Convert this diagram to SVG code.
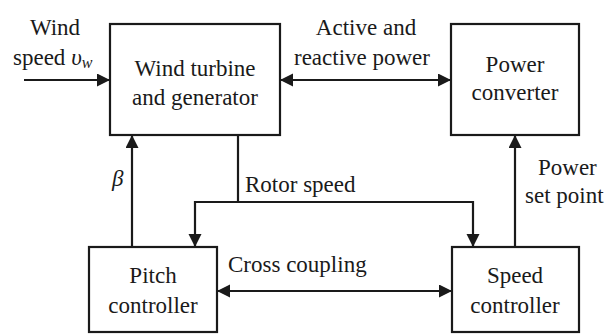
<svg xmlns="http://www.w3.org/2000/svg" width="605" height="334" viewBox="0 0 605 334">
<defs>
<marker id="ah" markerUnits="userSpaceOnUse" markerWidth="14" markerHeight="14" refX="13" refY="6.5" orient="auto-start-reverse">
<path d="M0,0 L13,6.5 L0,13 z" fill="#1a1a1a"/>
</marker>
</defs>
<rect width="605" height="334" fill="#fff"/>
<g id="connectors" fill="none" stroke="#1a1a1a" stroke-width="2.2">
<line x1="24" y1="80" x2="110" y2="80" marker-end="url(#ah)"/>
<line x1="280" y1="80" x2="451" y2="80" marker-start="url(#ah)" marker-end="url(#ah)"/>
<line x1="132" y1="247" x2="132" y2="135" marker-end="url(#ah)"/>
<polyline points="238,135 238,202"/>
<polyline points="195,247 195,202 473,202 473,247" marker-start="url(#ah)" marker-end="url(#ah)"/>
<line x1="217" y1="291" x2="452" y2="291" marker-start="url(#ah)" marker-end="url(#ah)"/>
<line x1="515" y1="247" x2="515" y2="135" marker-end="url(#ah)"/>
</g>
<g id="labels" fill="#1a1a1a">
<text x="55" y="35" style="font-family:'Liberation Serif',serif;font-size:23px" text-anchor="middle">Wind</text>
<text x="13" y="65" style="font-family:'Liberation Serif',serif;font-size:23px">speed <tspan font-style="italic">&#965;</tspan><tspan font-style="italic" font-size="16" dy="3">w</tspan></text>
<text x="366" y="35" style="font-family:'Liberation Serif',serif;font-size:23px" text-anchor="middle">Active and</text>
<text x="362" y="65" style="font-family:'Liberation Serif',serif;font-size:23px" text-anchor="middle">reactive power</text>
<text x="112" y="186" style="font-family:'Liberation Serif',serif;font-size:23px" font-style="italic">&#946;</text>
<text x="245" y="192" style="font-family:'Liberation Serif',serif;font-size:23px">Rotor speed</text>
<text x="228" y="272" style="font-family:'Liberation Serif',serif;font-size:23px">Cross coupling</text>
<text x="538" y="175" style="font-family:'Liberation Serif',serif;font-size:23px">Power</text>
<text x="525" y="203" style="font-family:'Liberation Serif',serif;font-size:23px">set point</text>
</g>
<g id="wind-turbine" fill="#1a1a1a">
<rect x="110" y="24" width="170" height="111" fill="#fff" stroke="#1a1a1a" stroke-width="2.2"/>
<text x="195" y="76" style="font-family:'Liberation Serif',serif;font-size:23px" text-anchor="middle">Wind turbine</text>
<text x="195" y="105" style="font-family:'Liberation Serif',serif;font-size:23px" text-anchor="middle">and generator</text>
</g>
<g id="power-converter" fill="#1a1a1a">
<rect x="451" y="24" width="128" height="111" fill="#fff" stroke="#1a1a1a" stroke-width="2.2"/>
<text x="515" y="72" style="font-family:'Liberation Serif',serif;font-size:23px" text-anchor="middle">Power</text>
<text x="515" y="100" style="font-family:'Liberation Serif',serif;font-size:23px" text-anchor="middle">converter</text>
</g>
<g id="pitch-controller" fill="#1a1a1a">
<rect x="89" y="247" width="128" height="85" fill="#fff" stroke="#1a1a1a" stroke-width="2.2"/>
<text x="153" y="283" style="font-family:'Liberation Serif',serif;font-size:23px" text-anchor="middle">Pitch</text>
<text x="153" y="313" style="font-family:'Liberation Serif',serif;font-size:23px" text-anchor="middle">controller</text>
</g>
<g id="speed-controller" fill="#1a1a1a">
<rect x="452" y="247" width="127" height="85" fill="#fff" stroke="#1a1a1a" stroke-width="2.2"/>
<text x="515" y="283" style="font-family:'Liberation Serif',serif;font-size:23px" text-anchor="middle">Speed</text>
<text x="515" y="313" style="font-family:'Liberation Serif',serif;font-size:23px" text-anchor="middle">controller</text>
</g>
</svg>
